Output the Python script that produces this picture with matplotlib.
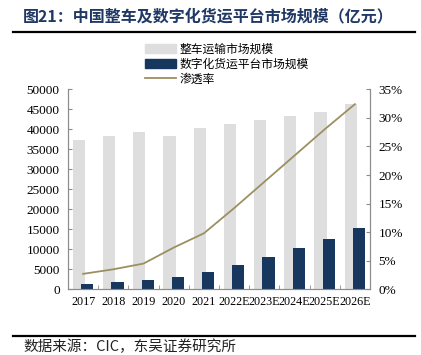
import matplotlib
matplotlib.use("Agg")
import matplotlib.pyplot as plt
import numpy as np
from matplotlib.lines import Line2D

categories = ["2017", "2018", "2019", "2020", "2021", "2022E", "2023E", "2024E", "2025E", "2026E"]
truck_market = [37400, 38400, 39400, 38400, 40400, 41400, 42400, 43400, 44400, 46400]
digital_market = [1400, 1800, 2250, 3200, 4300, 6200, 8200, 10300, 12700, 15300]
penetration = [2.7, 3.5, 4.5, 7.3, 9.8, 14.2, 18.8, 23.4, 28.0, 32.4]
left_ticks = list(range(0, 50001, 5000))
right_ticks = list(range(0, 36, 5))

title = "图21：中国整车及数字化货运平台市场规模（亿元）"
source = "数据来源：CIC，东吴证券研究所"
legend_labels = ["整车运输市场规模", "数字化货运平台市场规模", "渗透率"]

GRAY = "#DEDEDE"
NAVY = "#17375E"
OLIVE = "#9C9060"
SPINE = "#8C8C8C"

cjk = ["Noto Sans CJK SC", "DejaVu Sans"]
serif = ["Liberation Serif", "DejaVu Serif"]

fig = plt.figure(figsize=(4.21, 3.55), dpi=100)
ax = fig.add_axes([68 / 421, 1 - 289.3 / 355, (370 - 68) / 421, (289.3 - 89.3) / 355])
ax2 = ax.twinx()

x = np.arange(len(categories))
w = 0.4
ax.bar(x - 0.14, truck_market, width=w, color=GRAY, zorder=2)
ax.bar(x + 0.14, digital_market, width=w, color=NAVY, zorder=3)
ax2.plot(x, penetration, color=OLIVE, lw=1.3, zorder=4)

ax.set_xlim(-0.5, len(categories) - 0.5)
ax.set_ylim(0, 50000)
ax2.set_ylim(0, 35)
ax.set_yticks(left_ticks)
ax.set_yticklabels([str(v) for v in left_ticks], fontfamily=serif, fontsize=9.5)
ax2.set_yticks(right_ticks)
ax2.set_yticklabels([f"{v}%" for v in right_ticks], fontfamily=serif, fontsize=9.5)
ax.set_xticks(x)
ax.set_xticklabels(categories, fontfamily=serif, fontsize=8.7)
ax.set_xticks(np.arange(-0.5, len(categories)), minor=True)
ax.tick_params(axis="x", which="major", length=0, pad=5)
ax.tick_params(axis="x", which="minor", direction="in", length=3, color=SPINE)
ax.tick_params(axis="y", direction="in", length=3, color=SPINE, pad=6)
ax2.tick_params(axis="y", direction="in", length=3, color=SPINE, pad=6)

for a in (ax, ax2):
    a.spines["top"].set_visible(False)
    for s in ("left", "right", "bottom"):
        a.spines[s].set_color(SPINE)
        a.spines[s].set_linewidth(0.8)
ax.set_zorder(ax2.get_zorder() - 1)
ax2.patch.set_visible(False)

handles = [
    plt.Rectangle((0, 0), 1, 1, color=GRAY),
    plt.Rectangle((0, 0), 1, 1, color=NAVY),
    Line2D([0], [0], color=OLIVE, lw=1.3),
]
fig.legend(handles, legend_labels, loc="upper left", bbox_to_anchor=(145 / 421, 1 - 43 / 355),
           frameon=False, prop={"family": cjk, "size": 8.5}, handlelength=2.6, handleheight=0.8,
           handletextpad=0.3, labelspacing=0.15, borderaxespad=0, borderpad=0)

fig.text(23 / 421, 1 - 16 / 355, title, fontfamily=cjk, fontsize=11.5, fontweight="bold",
         color="#1F3864", va="center", ha="left")
fig.add_artist(Line2D([13 / 421, 415 / 421], [1 - 32 / 355] * 2, color="black", lw=1.6))
fig.add_artist(Line2D([13 / 421, 415 / 421], [1 - 336 / 355] * 2, color="black", lw=1.6))
fig.text(23 / 421, 1 - 346.5 / 355, source, fontfamily=cjk, fontsize=10.5, color="#222222",
         va="center", ha="left")

fig.savefig("out.png", dpi=100)
